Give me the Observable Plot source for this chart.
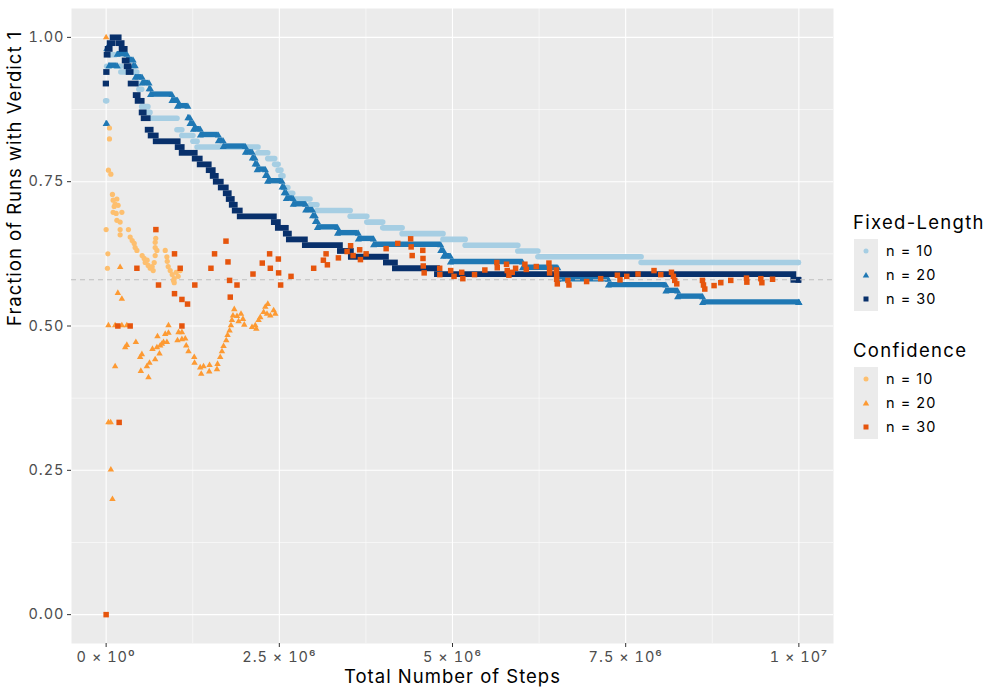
<!DOCTYPE html>
<html>
<head>
<meta charset="utf-8">
<script src="https://cdn.jsdelivr.net/npm/d3@7"></script>
<script src="https://cdn.jsdelivr.net/npm/@observablehq/plot@0.6"></script>
<style>
  body { margin: 0; background: #ffffff; font-family: Inter, "Noto Sans", sans-serif; }
  #wrap { position: relative; width: 1000px; height: 700px; }
  #wrap svg text { letter-spacing: 1px; }
  .lg-title { position: absolute; font-size: 18.5px; color: #000; line-height: 22px; white-space: nowrap; letter-spacing: 1.3px; }
  .lg-key { position: absolute; background: #EBEBEB; width: 24px; }
  .lg-label { position: absolute; font-size: 14.5px; color: #000; line-height: 24px; white-space: nowrap; letter-spacing: 1px; }
</style>
</head>
<body>
<div id="wrap"></div>
<script>
// ---------- data ----------
const xTicks = [0, 2.5e6, 5e6, 7.5e6, 1e7];
const xTickLabels = ["0 × 10⁰", "2.5 × 10⁶", "5 × 10⁶", "7.5 × 10⁶", "1 × 10⁷"];
const xMinor = [1.25e6, 3.75e6, 6.25e6, 8.75e6];
const yTicks = [0, 0.25, 0.5, 0.75, 1];
const yTickLabels = ["0.00", "0.25", "0.50", "0.75", "1.00"];
const yMinor = [0.125, 0.375, 0.625, 0.875];
const referenceLevel = 0.58;

const seriesLabels = ["n = 10", "n = 20", "n = 30"];
const fixedColors = ["#A6CEE3", "#1F78B4", "#08306B"];
const confColors = ["#FDBF6F", "#FD9A33", "#E6550D"];

// Fixed-Length: step series, [steps (millions) where level starts, fraction]
const fixed10 = [[0,0.89],[0.015,0.95],[0.06,0.97],[0.14,0.95],[0.22,0.94],[0.45,0.92],[0.48,0.91],[0.52,0.88],[0.61,0.87],[0.64,0.86],[1.03,0.84],[1.10,0.83],[1.26,0.82],[1.32,0.81],[2.20,0.80],[2.34,0.79],[2.44,0.78],[2.49,0.77],[2.53,0.76],[2.56,0.74],[2.63,0.73],[2.70,0.72],[2.95,0.71],[3.05,0.70],[3.53,0.69],[3.77,0.68],[4.00,0.67],[4.28,0.66],[4.87,0.65],[5.19,0.64],[5.95,0.63],[6.24,0.62],[7.73,0.61],[10.0,0.61]];
const fixed20 = [[0,0.85],[0.01,0.98],[0.04,0.95],[0.16,0.97],[0.30,0.96],[0.39,0.95],[0.42,0.93],[0.52,0.92],[0.62,0.91],[0.64,0.90],[0.95,0.89],[1.03,0.88],[1.18,0.86],[1.21,0.85],[1.26,0.84],[1.36,0.83],[1.62,0.82],[1.69,0.81],[2.01,0.80],[2.11,0.79],[2.15,0.78],[2.18,0.77],[2.30,0.76],[2.33,0.75],[2.54,0.74],[2.57,0.73],[2.60,0.72],[2.70,0.71],[2.88,0.70],[2.98,0.69],[3.02,0.68],[3.05,0.67],[3.34,0.66],[3.64,0.65],[3.86,0.64],[4.83,0.63],[4.87,0.62],[4.97,0.61],[6.01,0.60],[6.52,0.58],[7.25,0.57],[8.08,0.56],[8.25,0.55],[8.61,0.54],[10.0,0.54]];
const fixed30 = [[0,0.92],[0.007,0.94],[0.014,0.97],[0.029,0.98],[0.058,0.99],[0.101,1.00],[0.188,0.99],[0.231,0.98],[0.275,0.96],[0.303,0.95],[0.332,0.94],[0.361,0.92],[0.434,0.90],[0.462,0.89],[0.520,0.87],[0.549,0.86],[0.607,0.84],[0.650,0.83],[0.723,0.82],[1.040,0.81],[1.098,0.80],[1.286,0.79],[1.358,0.78],[1.488,0.77],[1.546,0.76],[1.590,0.75],[1.662,0.74],[1.734,0.73],[1.777,0.72],[1.821,0.71],[1.864,0.70],[1.936,0.69],[2.428,0.68],[2.486,0.67],[2.601,0.66],[2.645,0.65],[2.876,0.64],[3.382,0.63],[3.540,0.62],[4.046,0.61],[4.176,0.60],[4.783,0.59],[9.928,0.58],[10.0,0.58]];

// Confidence: individual points, [steps (millions), fraction]
const conf10 = [[0.048,0.843],[0.048,0.824],[0.033,0.770],[0.068,0.763],[0.091,0.728],[0.155,0.720],[0.101,0.718],[0.130,0.711],[0.116,0.707],[0.173,0.709],[0.101,0.697],[0.145,0.695],[0.227,0.697],[0.155,0.683],[0.202,0.680],[0.000,0.667],[0.202,0.667],[0.322,0.667],[0.202,0.658],[0.347,0.654],[0.376,0.648],[0.405,0.643],[0.419,0.636],[0.444,0.631],[0.025,0.625],[0.520,0.622],[0.549,0.617],[0.564,0.610],[0.592,0.614],[0.607,0.605],[0.636,0.600],[0.665,0.603],[0.679,0.596],[0.716,0.652],[0.708,0.645],[0.708,0.636],[0.733,0.631],[0.708,0.622],[0.694,0.610],[0.019,0.600],[0.853,0.631],[0.877,0.620],[0.882,0.612],[0.896,0.603],[0.925,0.596],[0.954,0.589],[0.983,0.582],[1.012,0.593],[1.040,0.586],[1.069,0.596],[0.973,0.579],[0.983,0.575]];
const conf20 = [[0,1.0],[0.033,0.333],[0.065,0.333],[0.068,0.251],[0.091,0.200],[0.033,0.501],[0.130,0.501],[0.227,0.501],[0.299,0.501],[0.900,0.501],[0.202,0.602],[0.169,0.557],[0.227,0.547],[0.130,0.430],[0.299,0.467],[0.275,0.463],[0.429,0.472],[0.516,0.451],[0.491,0.446],[0.501,0.422],[0.588,0.430],[0.626,0.436],[0.611,0.411],[0.708,0.442],[0.669,0.460],[0.733,0.463],[0.770,0.452],[0.741,0.482],[0.780,0.466],[0.805,0.469],[0.828,0.472],[0.877,0.472],[0.853,0.486],[0.900,0.488],[1.045,0.489],[1.094,0.489],[1.030,0.475],[1.094,0.477],[1.142,0.478],[1.156,0.466],[1.189,0.456],[1.272,0.446],[1.276,0.436],[1.358,0.428],[1.406,0.430],[1.373,0.417],[1.493,0.432],[1.488,0.421],[1.600,0.425],[1.608,0.434],[1.647,0.446],[1.672,0.456],[1.695,0.465],[1.734,0.475],[1.753,0.484],[1.782,0.492],[1.802,0.501],[1.816,0.510],[1.831,0.518],[1.850,0.529],[1.889,0.517],[1.947,0.521],[1.975,0.512],[1.994,0.502],[1.912,0.508],[2.106,0.498],[2.153,0.501],[2.168,0.495],[2.201,0.510],[2.225,0.515],[2.273,0.524],[2.298,0.533],[2.322,0.521],[2.370,0.518],[2.418,0.527],[2.442,0.521],[2.334,0.538]];
const conf30 = [[0,0.0],[0.188,0.333],[0.169,0.500],[0.347,0.500],[1.094,0.500],[0.444,0.600],[0.718,0.667],[0.756,0.571],[0.987,0.625],[0.987,0.556],[1.069,0.600],[1.094,0.546],[1.175,0.538],[1.280,0.571],[1.513,0.600],[1.565,0.625],[1.730,0.647],[1.759,0.611],[1.782,0.579],[1.792,0.550],[1.889,0.571],[2.120,0.590],[2.254,0.609],[2.360,0.625],[2.370,0.600],[2.486,0.616],[2.490,0.592],[2.519,0.571],[2.669,0.586],[2.996,0.600],[3.136,0.614],[3.175,0.625],[3.194,0.606],[3.353,0.618],[3.478,0.629],[3.529,0.639],[3.565,0.622],[3.660,0.632],[3.671,0.615],[3.753,0.625],[4.042,0.634],[4.210,0.643],[4.396,0.651],[4.403,0.637],[4.418,0.622],[4.571,0.631],[4.574,0.617],[4.578,0.604],[4.591,0.592],[4.815,0.600],[4.817,0.589],[4.974,0.596],[5.022,0.586],[5.133,0.593],[5.149,0.582],[5.318,0.589],[5.467,0.597],[5.640,0.610],[5.646,0.601],[5.780,0.607],[5.790,0.596],[5.814,0.588],[5.863,0.593],[5.911,0.600],[6.045,0.607],[6.065,0.598],[6.210,0.603],[6.392,0.609],[6.402,0.600],[6.402,0.592],[6.499,0.597],[6.503,0.589],[6.503,0.581],[6.513,0.573],[6.666,0.579],[6.681,0.571],[6.936,0.577],[7.139,0.582],[7.380,0.588],[7.418,0.580],[7.515,0.586],[7.678,0.590],[7.909,0.596],[8.006,0.589],[8.161,0.593],[8.189,0.586],[8.208,0.579],[8.237,0.573],[8.608,0.579],[8.623,0.571],[8.642,0.564],[8.776,0.570],[8.873,0.575],[9.017,0.579],[9.244,0.583],[9.249,0.576],[9.451,0.582],[9.466,0.575],[9.620,0.581]];

// ---------- tables ----------
const M = 1e6;
const toSegments = (s) => s.map(([x, y], i) => ({x1: x * M, x2: (i + 1 < s.length ? s[i + 1][0] : x) * M, y}));
const toPoints = (s) => s.map(([x, y]) => ({x: x * M, y}));
const seg10 = toSegments(fixed10), seg20 = toSegments(fixed20), seg30 = toSegments(fixed30);
const ends20 = seg20.flatMap(d => [{x: d.x1, y: d.y}, {x: d.x2, y: d.y}]);

const chart = Plot.plot({
  width: 1000,
  height: 700,
  marginLeft: 71,
  marginRight: 167,
  marginTop: 8,
  marginBottom: 57,
  x: {domain: [-0.5e6, 10.5e6]},
  y: {domain: [-0.05, 1.05]},
  style: {fontFamily: "Inter, 'Noto Sans', sans-serif", background: "white", overflow: "visible"},
  marks: [
    Plot.frame({fill: "#EBEBEB", stroke: null}),
    Plot.ruleX(xMinor, {stroke: "white", strokeWidth: 0.55}),
    Plot.ruleY(yMinor, {stroke: "white", strokeWidth: 0.55}),
    Plot.ruleX(xTicks, {stroke: "white", strokeWidth: 1.1}),
    Plot.ruleY(yTicks, {stroke: "white", strokeWidth: 1.1}),
    // Fixed-Length
    Plot.ruleY(seg10, {x1: "x1", x2: "x2", y: "y", stroke: fixedColors[0], strokeWidth: 5.6, strokeLinecap: "round"}),
    Plot.ruleY(seg20, {x1: "x1", x2: "x2", y: "y", stroke: fixedColors[1], strokeWidth: 5.4, dy: -1}),
    Plot.dot(ends20, {x: "x", y: "y", symbol: "triangle", r: 2.6, fill: fixedColors[1], stroke: null}),
    Plot.ruleY(seg30, {x1: "x1", x2: "x2", y: "y", stroke: fixedColors[2], strokeWidth: 5.8, strokeLinecap: "square"}),
    // reference line
    Plot.ruleY([referenceLevel], {stroke: "#BEBEBE", strokeWidth: 1.1, strokeDasharray: "5,4"}),
    // Confidence
    Plot.dot(toPoints(conf10), {x: "x", y: "y", symbol: "circle", r: 2.6, fill: confColors[0], stroke: null}),
    Plot.dot(toPoints(conf20), {x: "x", y: "y", symbol: "triangle", r: 2.4, fill: confColors[1], stroke: null}),
    Plot.dot(toPoints(conf30), {x: "x", y: "y", symbol: "square", r: 3.1, fill: confColors[2], stroke: null}),
    // axes
    Plot.axisX(xTicks, {tickFormat: d => xTickLabels[xTicks.indexOf(d)], tickSize: 4, tickPadding: 4, fontSize: 14.5, color: "#4D4D4D", stroke: "#333333", label: null}),
    Plot.axisY(yTicks, {tickFormat: d => yTickLabels[yTicks.indexOf(d)], tickSize: 4, tickPadding: 3, fontSize: 14.5, color: "#4D4D4D", stroke: "#333333", label: null}),
    Plot.text(["Total Number of Steps"], {text: d => d, frameAnchor: "bottom", dy: 39, fontSize: 18.5, fill: "#000"}),
    Plot.text(["Fraction of Runs with Verdict 1"], {text: d => d, frameAnchor: "left", dx: -56, rotate: -90, fontSize: 18.5, fill: "#000"})
  ]
});
const wrap = document.getElementById("wrap");
wrap.appendChild(chart);

// ---------- legend ----------
const legendGroups = [
  {title: "Fixed-Length", colors: fixedColors, top: 211},
  {title: "Confidence", colors: confColors, top: 339}
];
const legendSymbols = ["circle", "triangle", "square"];
function symbolSvg(kind, color) {
  let shape;
  if (kind === "circle") shape = `<circle cx="12" cy="12" r="2.5" fill="${color}"/>`;
  else if (kind === "triangle") shape = `<path d="${d3.symbol(d3.symbolTriangle, 18)()}" transform="translate(12,12.6)" fill="${color}"/>`;
  else shape = `<rect x="9.5" y="9.5" width="5" height="5" fill="${color}"/>`;
  return `<svg width="24" height="24" style="position:absolute;left:0;top:0">${shape}</svg>`;
}
legendGroups.forEach(g => {
  const t = document.createElement("div");
  t.className = "lg-title";
  t.textContent = g.title;
  t.style.left = "853px";
  t.style.top = g.top + "px";
  wrap.appendChild(t);
  const keyTop = g.top + 28;
  const bg = document.createElement("div");
  bg.className = "lg-key";
  bg.style.left = "854px";
  bg.style.top = keyTop + "px";
  bg.style.height = (24 * seriesLabels.length) + "px";
  wrap.appendChild(bg);
  seriesLabels.forEach((lab, i) => {
    const k = document.createElement("div");
    k.style.position = "absolute";
    k.style.left = "854px";
    k.style.top = (keyTop + 24 * i) + "px";
    k.style.width = "24px";
    k.style.height = "24px";
    k.innerHTML = symbolSvg(legendSymbols[i], g.colors[i]);
    wrap.appendChild(k);
    const l = document.createElement("div");
    l.className = "lg-label";
    l.textContent = lab;
    l.style.left = "886px";
    l.style.top = (keyTop + 24 * i) + "px";
    wrap.appendChild(l);
  });
});
</script>
</body>
</html>
